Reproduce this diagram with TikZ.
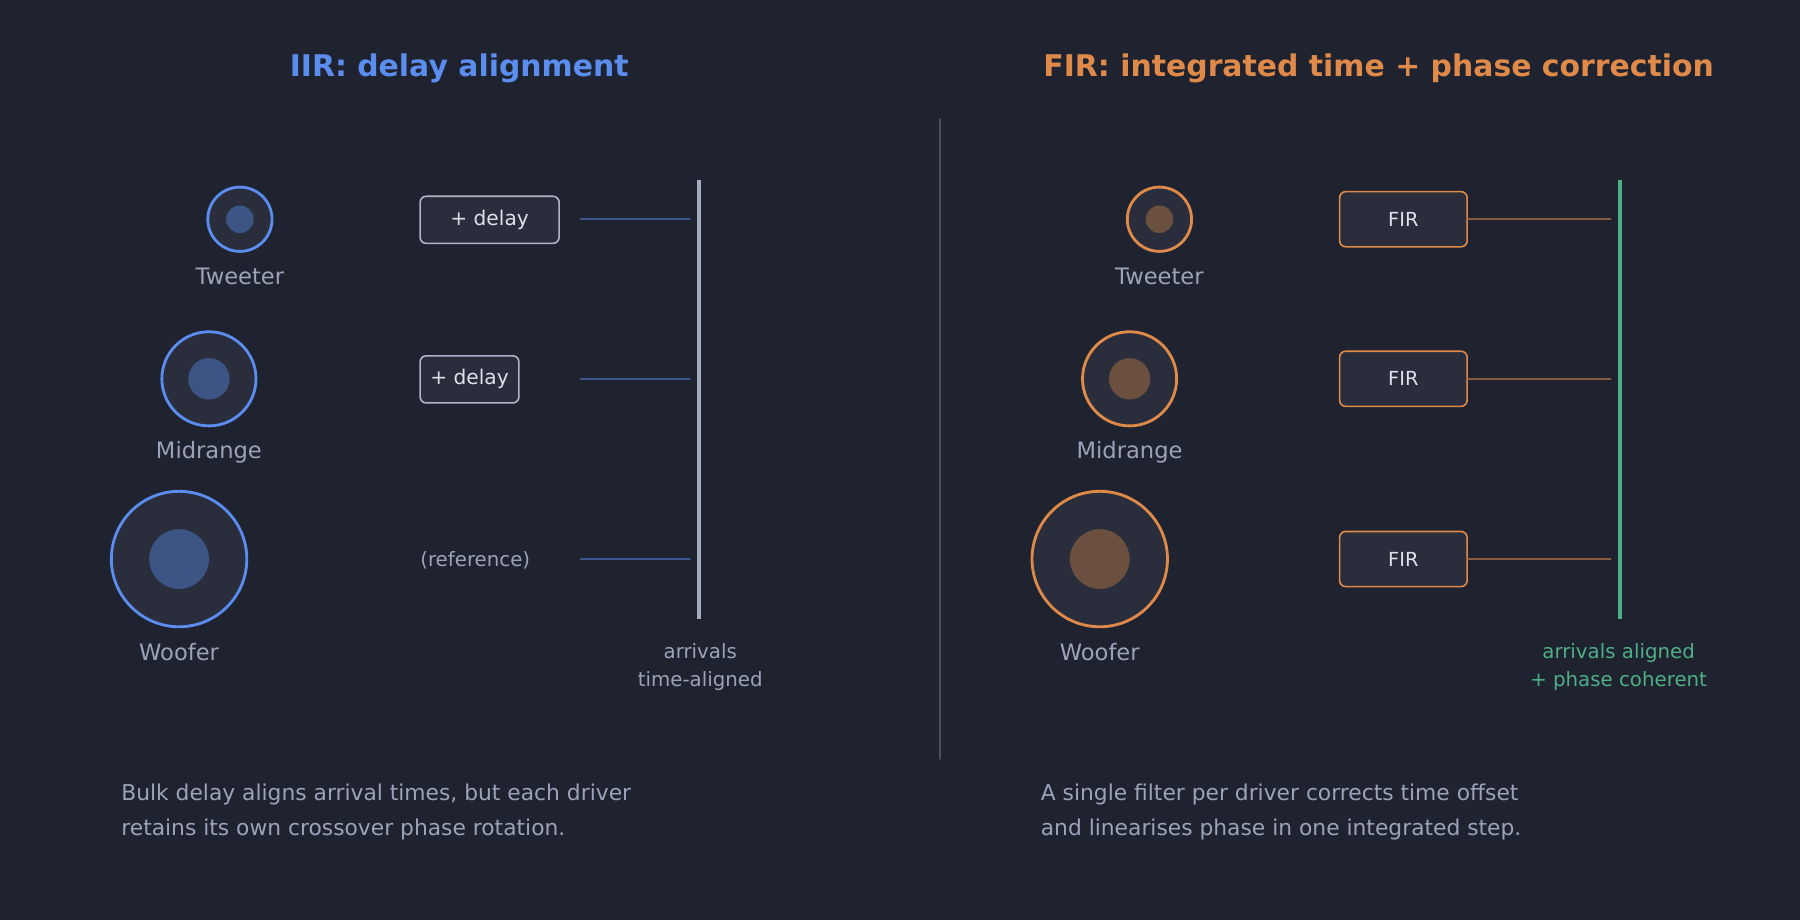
\documentclass[tikz,border=0pt]{standalone}
\usepackage{fontspec}
\setmainfont{DejaVu Sans}
\usetikzlibrary{positioning}
\definecolor{bgcol}{HTML}{1F2330}
\definecolor{panel}{HTML}{2A2D3C}
\definecolor{iirblue}{HTML}{5B8DEF}
\definecolor{iirdim}{HTML}{3D5585}
\definecolor{firorange}{HTML}{E08A4A}
\definecolor{firdim}{HTML}{6B5040}
\definecolor{goodgreen}{HTML}{4FAE84}
\definecolor{greytext}{HTML}{9AA3B8}
\definecolor{lighttext}{HTML}{DDE1EA}
\begin{document}
\begin{tikzpicture}[x=0.01cm,y=-0.01cm,line cap=round]
	\tikzstyle{title}=[font=\bfseries\fontsize{7.4}{8}\selectfont];
	\tikzstyle{lbl}=[text=greytext,font=\fontsize{5.6}{6.5}\selectfont];
	\tikzstyle{small}=[text=greytext,font=\fontsize{4.9}{5.5}\selectfont];
	\tikzstyle{caption}=[text=greytext,font=\fontsize{5.4}{8.8}\selectfont,align=left,anchor=north west,inner sep=0pt];
	\tikzstyle{iirbox}=[draw=greytext!80,fill=panel,rounded corners=1.5pt,line width=0.4pt,text=lighttext,font=\fontsize{5.0}{5.5}\selectfont,minimum height=0.41cm,inner sep=0pt];
	\tikzstyle{firbox}=[draw=firorange,fill=panel,rounded corners=1.5pt,line width=0.4pt,text=lighttext,font=\fontsize{4.8}{5.5}\selectfont,minimum height=0.48cm,minimum width=1.11cm,inner sep=0pt];
	\tikzstyle{iirpath}=[draw=iirblue!50!bgcol,line width=0.45pt];
	\tikzstyle{firpath}=[draw=firorange!55!bgcol,line width=0.45pt];

	\fill[bgcol] (0,0) rectangle (1568,801);

	% left panel: IIR
	\node[title,text=iirblue] (iirtitle) at (400,60) {IIR: delay alignment};
	\foreach \name/\cx/\cy/\r/\ri/\ly in {tw/209/191/28/12/241,mid/182/330/41/18/394,woof/156/487/59/26/568}{
		\draw[iirblue,fill=panel,line width=0.7pt] (\cx,\cy) circle (\r);
		\fill[iirdim] (\cx,\cy) circle (\ri);
	}
	\node[lbl] (iirtwl) at (209,241) {Tweeter};
	\node[lbl] (iirmidl) at (182,394) {Midrange};
	\node[lbl] (iirwoofl) at (156,568) {Woofer};
	\node[iirbox,minimum width=1.21cm] (delayA) at (426.5,191.5) {+ delay};
	\node[iirbox,minimum width=0.86cm] (delayB) at (409,330.5) {+ delay};
	\node[small] (refnote) at (414,488) {(reference)};
	\foreach \y in {191,330,487}
		\draw[iirpath] (506,\y) -- (601,\y);
	\coordinate (iirtop) at (609,157);
	\coordinate (iirbot) at (609,539);
	\draw[greytext!90,line width=1.1pt,line cap=butt] (iirtop) -- (iirbot);
	\node[small,align=center,font=\fontsize{4.9}{6.8}\selectfont] (iirarr) at (610,581) {arrivals\\time-aligned};
	\node[caption] (iircap) at (105,682) {Bulk delay aligns arrival times, but each driver\\retains its own crossover phase rotation.};

	% divider
	\coordinate (divtop) at (819,104);
	\coordinate (divbot) at (819,661);
	\draw[greytext!35!bgcol,line width=0.5pt] (divtop) -- (divbot);

	% right panel: FIR
	\node[title,text=firorange] (firtitle) at (1201,60) {FIR: integrated time + phase correction};
	\foreach \name/\cx/\cy/\r/\ri in {tw/1010/191/28/12,mid/984/330/41/18,woof/958/487/59/26}{
		\draw[firorange,fill=panel,line width=0.7pt] (\cx,\cy) circle (\r);
		\fill[firdim] (\cx,\cy) circle (\ri);
	}
	\node[lbl] (firtwl) at (1010,241) {Tweeter};
	\node[lbl] (firmidl) at (984,394) {Midrange};
	\node[lbl] (firwoofl) at (958,568) {Woofer};
	\node[firbox] (firA) at (1222.5,191) {FIR};
	\node[firbox] (firB) at (1222.5,330) {FIR};
	\node[firbox] (firC) at (1222.5,487) {FIR};
	\coordinate (endA) at (1403,191);
	\coordinate (endB) at (1403,330);
	\coordinate (endC) at (1403,487);
	\draw[firpath] (firA.east) -- (endA);
	\draw[firpath] (firB.east) -- (endB);
	\draw[firpath] (firC.east) -- (endC);
	\coordinate (firtop) at (1411,157);
	\coordinate (firbot) at (1411,539);
	\draw[goodgreen,line width=1.1pt,line cap=butt] (firtop) -- (firbot);
	\node[small,text=goodgreen,align=center,font=\fontsize{4.9}{6.8}\selectfont] (firarr) at (1410,581) {arrivals aligned\\+ phase coherent};
	\node[caption] (fircap) at (906,682) {A single filter per driver corrects time offset\\and linearises phase in one integrated step.};
\end{tikzpicture}
\end{document}
